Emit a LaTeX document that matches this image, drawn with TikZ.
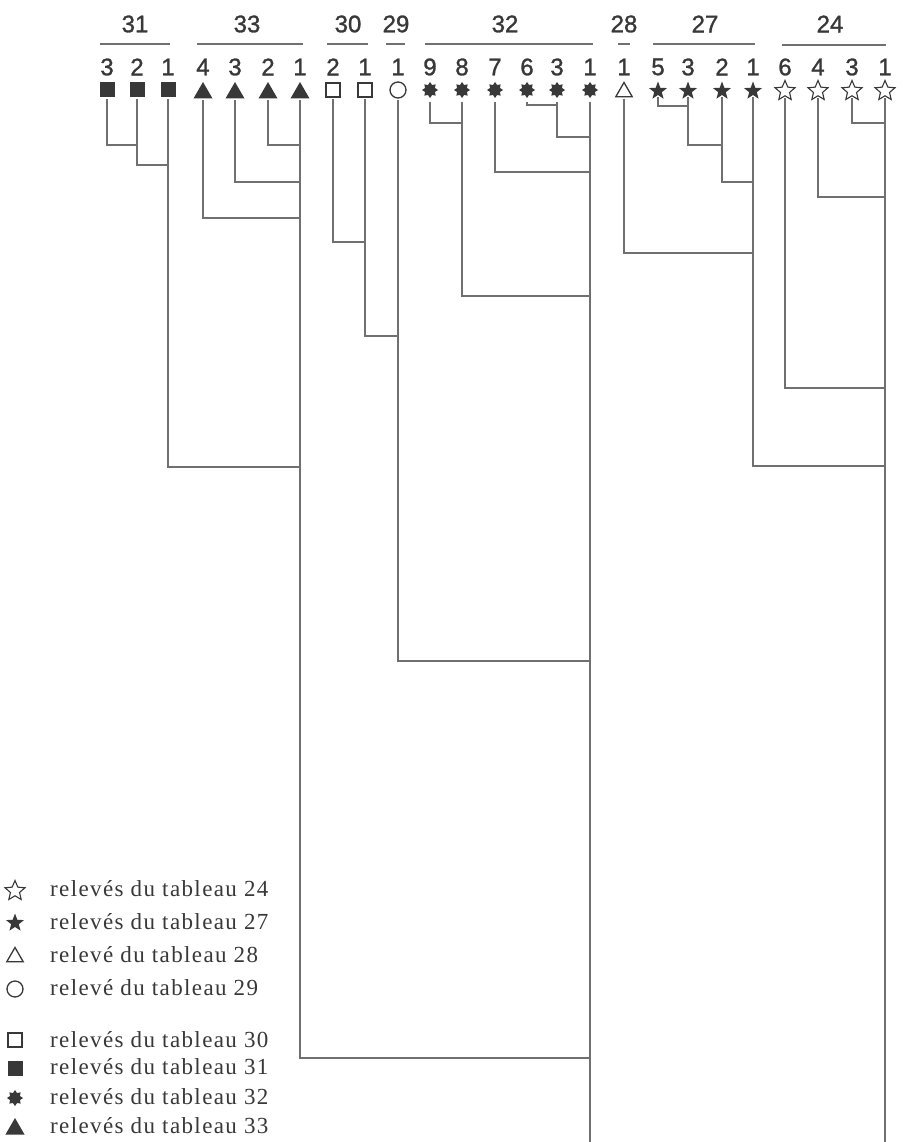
\documentclass[tikz,border=0pt]{standalone}
\usepackage{fontspec}
\setmainfont{Liberation Sans}[FakeBold=1.2]
\newfontfamily\legfont{Liberation Serif}[LetterSpace=6]
\usetikzlibrary{shapes.geometric}
\definecolor{ink}{HTML}{383838}
\definecolor{wirec}{HTML}{707070}
\tikzset{
  sym/.style={inner sep=0pt, outer sep=2pt},
  fsq/.style={sym, rectangle, fill=ink, minimum size=15pt},
  osq/.style={sym, rectangle, draw=ink, line width=1.3pt, minimum size=14pt},
  ftri/.style={sym, regular polygon, regular polygon sides=3, fill=ink, minimum size=22pt},
  otri/.style={sym, regular polygon, regular polygon sides=3, draw=ink, line width=1.3pt, minimum size=19pt},
  circ/.style={sym, circle, draw=ink, line width=1.3pt, minimum size=16pt},
  burst/.style={sym, star, star points=8, star point ratio=1.5, fill=ink, minimum size=16pt},
  fstar/.style={sym, star, star points=5, star point ratio=2.4, fill=ink, minimum size=19pt},
  ostar/.style={sym, star, star points=5, star point ratio=2.2, draw=ink, line width=1.1pt, minimum size=21pt},
  num/.style={font=\fontsize{24}{24}\selectfont, text=ink, inner sep=0pt},
  gbar/.style={draw=wirec, line width=1.3pt},
  wire/.style={draw=wirec, line width=1.1pt},
  leg/.style={font=\legfont\fontsize{23}{23}\selectfont, text=ink, anchor=west, inner sep=0pt},
}
\begin{document}
\begin{tikzpicture}[x=1pt,y=-1pt]
\useasboundingbox[fill=white] (0,0) rectangle (902,1142);

% group labels and bars
\node[num] (G31) at (135,24) {31};
\node[num] (G33) at (247,24) {33};
\node[num] (G30) at (348,24) {30};
\node[num] (G29) at (396,24) {29};
\node[num] (G32) at (505,24) {32};
\node[num] (G28) at (624,24) {28};
\node[num] (G27) at (705,24) {27};
\node[num] (G24) at (830,24) {24};
\draw[gbar] (100,44) -- (170,44);
\draw[gbar] (197,44) -- (303,44);
\draw[gbar] (327,44) -- (368,44);
\draw[gbar] (386,44) -- (405,44);
\draw[gbar] (425,44) -- (593,44);
\draw[gbar] (618,44) -- (630,44);
\draw[gbar] (653,44) -- (755,44);
\draw[gbar] (782,45) -- (886,45);

% leaf numbers
\foreach \x/\t [count=\i] in {107/3,137/2,168/1,203/4,235/3,268/2,300/1,333/2,365/1,398/1,430/9,462/8,495/7,527/6,557/3,590/1,624/1,658/5,688/3,722/2,753/1,785/6,818/4,852/3,885/1}
  \node[num] (N\i) at (\x,67) {\t};

% leaf symbols
\node[fsq] (L1) at (107,90) {};
\node[fsq] (L2) at (137,90) {};
\node[fsq] (L3) at (168,90) {};
\node[ftri] (L4) at (203,93) {};
\node[ftri] (L5) at (235,93) {};
\node[ftri] (L6) at (268,93) {};
\node[ftri] (L7) at (300,93) {};
\node[osq] (L8) at (333,90) {};
\node[osq] (L9) at (365,90) {};
\node[circ] (L10) at (398,90) {};
\node[burst] (L11) at (430,90) {};
\node[burst] (L12) at (462,90) {};
\node[burst] (L13) at (495,90) {};
\node[burst] (L14) at (527,90) {};
\node[burst] (L15) at (557,90) {};
\node[burst] (L16) at (590,90) {};
\node[otri] (L17) at (624,92) {};
\node[fstar] (L18) at (658,91) {};
\node[fstar] (L19) at (688,91) {};
\node[fstar] (L20) at (722,91) {};
\node[fstar] (L21) at (753,91) {};
\node[ostar] (L22) at (785,91) {};
\node[ostar] (L23) at (818,91) {};
\node[ostar] (L24) at (852,91) {};
\node[ostar] (L25) at (885,91) {};

% merge points
\coordinate (m1) at (137,145);
\coordinate (m2) at (168,165);
\coordinate (m3) at (300,145);
\coordinate (m4) at (300,182);
\coordinate (m5) at (300,218);
\coordinate (m6) at (300,467);
\coordinate (m7) at (365,242);
\coordinate (m8) at (398,336);
\coordinate (m9) at (557,105);
\coordinate (m10) at (590,137);
\coordinate (m11) at (590,172);
\coordinate (m12) at (462,123);
\coordinate (m13) at (590,296);
\coordinate (m14) at (590,661);
\coordinate (m15) at (590,1058);
\coordinate (m16) at (688,106);
\coordinate (m17) at (722,145);
\coordinate (m18) at (753,182);
\coordinate (m19) at (753,253);
\coordinate (m20) at (885,123);
\coordinate (m21) at (885,197);
\coordinate (m22) at (885,388);
\coordinate (m23) at (885,466);
\coordinate (e1) at (590,1142);
\coordinate (e2) at (885,1142);

% connectors
\draw[wire] (L1) |- (m1);  \draw[wire] (L2) -- (m1);
\draw[wire] (m1) |- (m2);  \draw[wire] (L3) -- (m2);
\draw[wire] (L6) |- (m3);  \draw[wire] (L7) -- (m3);
\draw[wire] (L5) |- (m4);  \draw[wire] (m3) -- (m4);
\draw[wire] (L4) |- (m5);  \draw[wire] (m4) -- (m5);
\draw[wire] (m2) |- (m6);  \draw[wire] (m5) -- (m6);
\draw[wire] (L8) |- (m7);  \draw[wire] (L9) -- (m7);
\draw[wire] (m7) |- (m8);  \draw[wire] (L10) -- (m8);
\draw[wire] (L14) |- (m9); \draw[wire] (L15) -- (m9);
\draw[wire] (m9) |- (m10); \draw[wire] (L16) -- (m10);
\draw[wire] (L13) |- (m11); \draw[wire] (m10) -- (m11);
\draw[wire] (L11) |- (m12); \draw[wire] (L12) -- (m12);
\draw[wire] (m12) |- (m13); \draw[wire] (m11) -- (m13);
\draw[wire] (m8) |- (m14); \draw[wire] (m13) -- (m14);
\draw[wire] (m6) |- (m15); \draw[wire] (m14) -- (m15);
\draw[wire] (m15) -- (e1);
\draw[wire] (L18) |- (m16); \draw[wire] (L19) -- (m16);
\draw[wire] (m16) |- (m17); \draw[wire] (L20) -- (m17);
\draw[wire] (m17) |- (m18); \draw[wire] (L21) -- (m18);
\draw[wire] (L17) |- (m19); \draw[wire] (m18) -- (m19);
\draw[wire] (L24) |- (m20); \draw[wire] (L25) -- (m20);
\draw[wire] (L23) |- (m21); \draw[wire] (m20) -- (m21);
\draw[wire] (L22) |- (m22); \draw[wire] (m21) -- (m22);
\draw[wire] (m19) |- (m23); \draw[wire] (m22) -- (m23);
\draw[wire] (m23) -- (e2);

% legend
\node[ostar] (S1) at (15,891) {};
\node[fstar] (S2) at (15,923) {};
\node[otri] (S3) at (15,957) {};
\node[circ] (S4) at (15,989) {};
\node[osq] (S5) at (15,1040) {};
\node[fsq] (S6) at (15,1068) {};
\node[burst] (S7) at (15,1098) {};
\node[ftri] (S8) at (15,1129) {};
\node[leg] (T1) at (50,889) {relevés du tableau 24};
\node[leg] (T2) at (50,922) {relevés du tableau 27};
\node[leg] (T3) at (50,955) {relevé du tableau 28};
\node[leg] (T4) at (50,988) {relevé du tableau 29};
\node[leg] (T5) at (50,1040) {relevés du tableau 30};
\node[leg] (T6) at (50,1067) {relevés du tableau 31};
\node[leg] (T7) at (50,1097) {relevés du tableau 32};
\node[leg] (T8) at (50,1126) {relevés du tableau 33};
\end{tikzpicture}
\end{document}
